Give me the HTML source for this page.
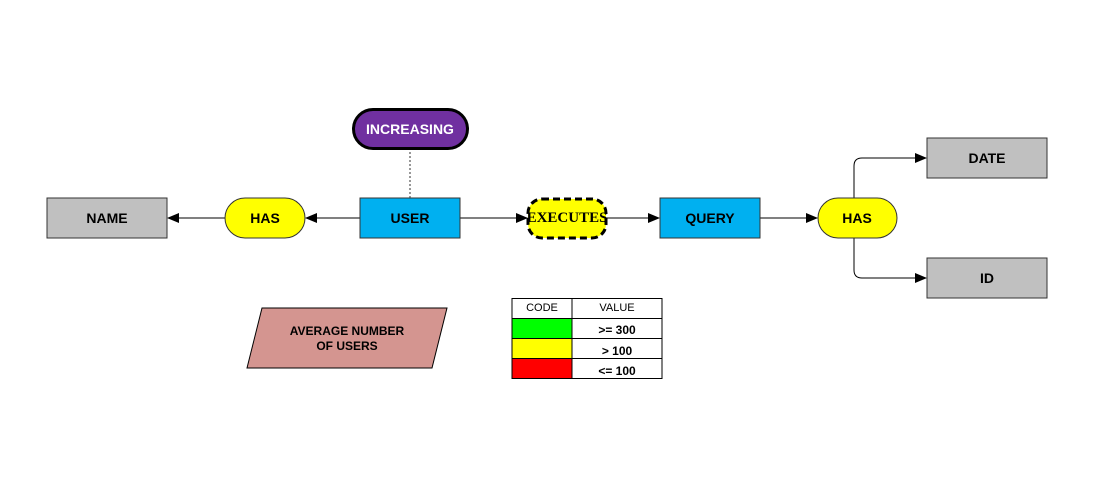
<!DOCTYPE html>
<html><head><meta charset="utf-8"><style>
html,body{margin:0;padding:0;background:#fff;}
svg{display:block;}
text{font-family:"Liberation Sans",Arial,sans-serif;font-weight:bold;font-size:14px;text-anchor:middle;dominant-baseline:central;}
</style></head><body>
<svg width="1111" height="500" viewBox="0 0 1111 500" xmlns="http://www.w3.org/2000/svg">
<defs>
<marker id="a" markerWidth="12" markerHeight="10" refX="11" refY="5" orient="auto" markerUnits="userSpaceOnUse">
<path d="M0,0 L12,5 L0,10 Z" fill="#000"/>
</marker>
</defs>
<!-- connectors -->
<line x1="410" y1="148" x2="410" y2="198" stroke="#777" stroke-width="1.5" stroke-dasharray="2,2"/>
<line x1="360" y1="218" x2="306" y2="218" stroke="#000" marker-end="url(#a)"/>
<line x1="225" y1="218" x2="168" y2="218" stroke="#000" marker-end="url(#a)"/>
<line x1="460" y1="218" x2="527" y2="218" stroke="#000" marker-end="url(#a)"/>
<line x1="606" y1="218" x2="659" y2="218" stroke="#000" marker-end="url(#a)"/>
<line x1="760" y1="218" x2="817" y2="218" stroke="#000" marker-end="url(#a)"/>
<path d="M854,198 V166 Q854,158 862,158 H926" fill="none" stroke="#000" marker-end="url(#a)"/>
<path d="M854,238 V270 Q854,278 862,278 H926" fill="none" stroke="#000" marker-end="url(#a)"/>
<!-- nodes -->
<rect x="47" y="198" width="120" height="40" fill="#c0c0c0" stroke="#333"/>
<text x="107" y="218">NAME</text>
<rect x="225" y="198" width="80" height="40" rx="20" fill="#ffff00" stroke="#333"/>
<text x="265" y="218">HAS</text>
<rect x="360" y="198" width="100" height="40" fill="#00b0f0" stroke="#333"/>
<text x="410" y="218">USER</text>
<rect x="353.5" y="109.5" width="114" height="39" rx="19.5" fill="#7030a0" stroke="#000" stroke-width="3"/>
<text x="410" y="129" fill="#fff">INCREASING</text>
<rect x="528" y="199" width="78" height="39" rx="14" fill="#ffff00" stroke="#000" stroke-width="3" stroke-dasharray="7,4"/>
<text x="567" y="218" style="font-family:'Liberation Serif',serif;font-size:15px">EXECUTES</text>
<rect x="660" y="198" width="100" height="40" fill="#00b0f0" stroke="#333"/>
<text x="710" y="218">QUERY</text>
<rect x="818" y="198" width="79" height="40" rx="20" fill="#ffff00" stroke="#333"/>
<text x="857" y="218">HAS</text>
<rect x="927" y="138" width="120" height="40" fill="#c0c0c0" stroke="#333"/>
<text x="987" y="158">DATE</text>
<rect x="927" y="258" width="120" height="40" fill="#c0c0c0" stroke="#333"/>
<text x="987" y="278">ID</text>
<polygon points="262,308 447,308 432,368 247,368" fill="#d49590" stroke="#000"/>
<text x="347" y="331" style="font-size:12px">AVERAGE NUMBER</text>
<text x="347" y="346" style="font-size:12px">OF USERS</text>
<!-- table -->
<rect x="512" y="318" width="60" height="20" fill="#00ff00"/>
<rect x="512" y="338" width="60" height="20" fill="#ffff00"/>
<rect x="512" y="358" width="60" height="20" fill="#ff0000"/>
<g stroke="#000" fill="none">
<rect x="512" y="298.5" width="150" height="80"/>
<line x1="572" y1="298" x2="572" y2="378"/>
<line x1="512" y1="318.5" x2="662" y2="318.5"/>
<line x1="512" y1="338.5" x2="662" y2="338.5"/>
<line x1="512" y1="358.5" x2="662" y2="358.5"/>
</g>
<text x="542" y="308" style="font-weight:normal;font-size:11px">CODE</text>
<text x="617" y="308" style="font-weight:normal;font-size:11px">VALUE</text>
<text x="617" y="330" style="font-size:12px">&gt;= 300</text>
<text x="617" y="351" style="font-size:12px">&gt; 100</text>
<text x="617" y="371" style="font-size:12px">&lt;= 100</text>
</svg>
</body></html>
